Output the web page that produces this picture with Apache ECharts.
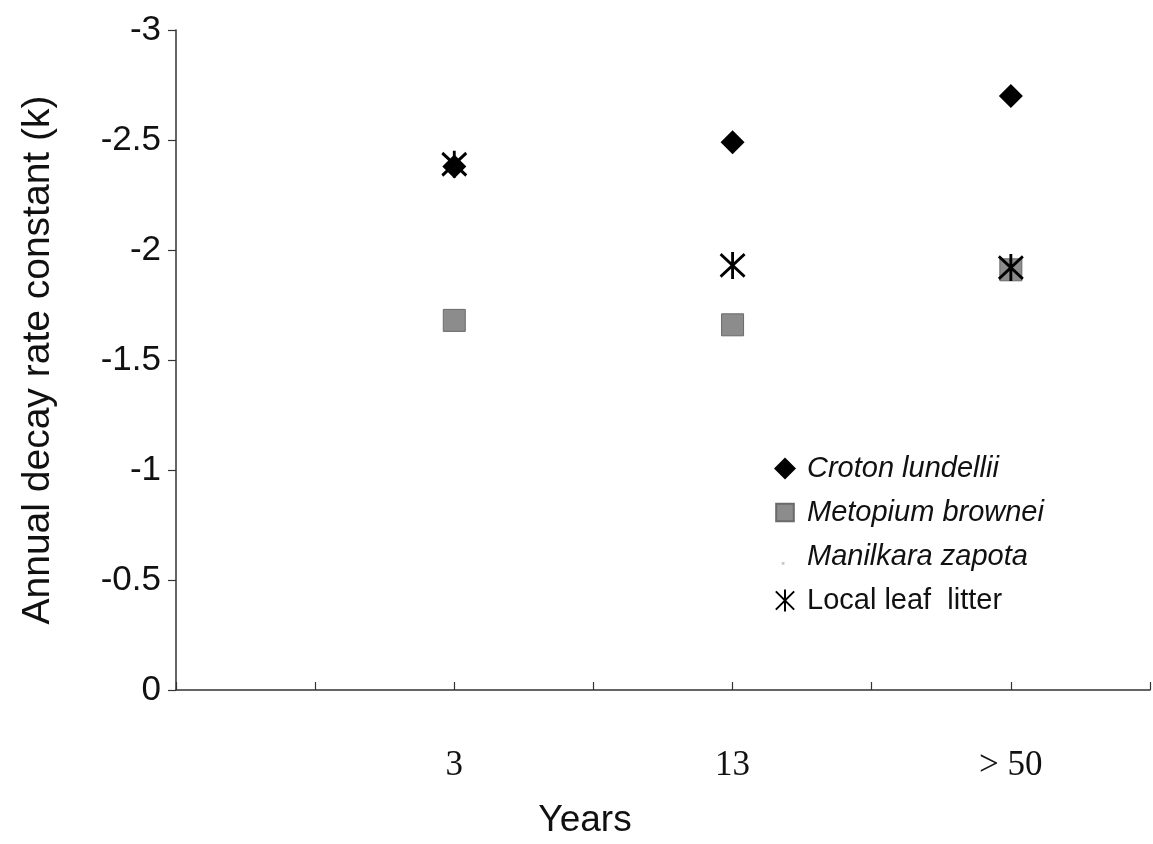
<!DOCTYPE html>
<html>
<head>
<meta charset="utf-8">
<script src="https://cdn.jsdelivr.net/npm/echarts@6/dist/echarts.min.js"></script>
<style>html,body{margin:0;padding:0;background:#fff}#c{width:1153px;height:844px}</style>
</head>
<body>
<div id="c"></div>
<script>
// Category positions on x (1,2,3) and their labels
var xPositions = [1, 2, 3];
var xTickLabels = ['3', '13', '> 50'];
var yTicks = [-3, -2.5, -2, -1.5, -1, -0.5, 0];

var crotonLundellii = [-2.38, -2.49, -2.70];
var metopiumBrownei = [-1.68, -1.66, -1.91];
var manilkaraZapota = [-2.38, -1.93, -1.92];
var localLeafLitter = [-2.39, -1.93, -1.92];

function pairs(vals) { return xPositions.map(function (x, i) { return [x, vals[i]]; }); }

var asterisk = 'path://M0 -12 L0 12 M-10 -10 L10 10 M-10 10 L10 -10';
var faintDot = 'path://M0 0 L0.01 0 M20 20 L20.01 20 M7 15 h2.5 v2.5 h-2.5 Z';
var smallSquare = 'path://M0 0 L0.01 0 M20 20 L20.01 20 M2 2 h16 v16 h-16 Z';

var chart = echarts.init(document.getElementById('c'));
chart.setOption({
  animation: false,
  backgroundColor: '#fff',
  grid: { left: 176, right: 3, top: 30, bottom: 151, containLabel: false },
  xAxis: {
    type: 'value', min: 0, max: 3.5, interval: 0.5,
    name: 'Years', nameLocation: 'middle', nameGap: 112,
    nameTextStyle: { fontFamily: 'Liberation Sans, Arial', fontSize: 37, color: '#111', padding: [0, 156, 0, 0] },
    axisLine: { lineStyle: { color: '#333', width: 1.5 } },
    axisTick: { inside: true, length: 8, lineStyle: { color: '#333', width: 1.2 } },
    splitLine: { show: false },
    axisLabel: {
      margin: 58, fontFamily: 'Liberation Serif, Times New Roman', fontSize: 35, color: '#111',
      formatter: function (v) { var i = xPositions.indexOf(v); return i >= 0 ? xTickLabels[i] : ''; }
    }
  },
  yAxis: {
    type: 'value', min: -3, max: 0, interval: 0.5, inverse: true,
    name: 'Annual decay rate constant (k)', nameLocation: 'middle', nameGap: 118, nameRotate: 90,
    nameTextStyle: { fontFamily: 'Liberation Sans, Arial', fontSize: 39, color: '#111' },
    axisLine: { onZero: false, lineStyle: { color: '#333', width: 1.5 } },
    axisTick: { inside: false, length: 8, lineStyle: { color: '#333', width: 1.2 } },
    splitLine: { show: false },
    axisLabel: {
      margin: 15, fontFamily: 'Liberation Sans, Arial', fontSize: 35, color: '#111',
      formatter: function (v) { return String(v); }
    }
  },
  legend: {
    orient: 'vertical', left: 768, top: 449,
    itemWidth: 22, itemHeight: 22, itemGap: 15,
    textStyle: { fontFamily: 'Liberation Sans, Arial', fontSize: 29, color: '#111', padding: [0, 0, 0, 6] },
    data: [
      { name: 'Croton lundellii', textStyle: { fontStyle: 'italic' } },
      { name: 'Metopium brownei', icon: smallSquare, textStyle: { fontStyle: 'italic' } },
      { name: 'Manilkara zapota', icon: faintDot, textStyle: { fontStyle: 'italic' } },
      { name: 'Local leaf  litter' }
    ]
  },
  series: [
    {
      name: 'Metopium brownei', type: 'scatter', data: pairs(metopiumBrownei),
      symbol: 'rect', symbolSize: 22,
      itemStyle: { color: '#8c8c8c', borderColor: '#6a6a6a', borderWidth: 1, opacity: 1 }
    },
    {
      name: 'Croton lundellii', type: 'scatter', data: pairs(crotonLundellii),
      symbol: 'diamond', symbolSize: [24, 24],
      itemStyle: { color: '#000', opacity: 1 }
    },
    {
      name: 'Manilkara zapota', type: 'scatter', data: pairs(manilkaraZapota),
      symbol: 'circle', symbolSize: 3,
      itemStyle: { color: '#c8c8c8', opacity: 1 }
    },
    {
      name: 'Local leaf  litter', type: 'scatter', data: pairs(localLeafLitter),
      symbol: asterisk, symbolSize: [24, 27],
      itemStyle: { color: 'rgba(0,0,0,0)', borderColor: '#000', borderWidth: 3, opacity: 1 }
    }
  ]
});
</script>
</body>
</html>
